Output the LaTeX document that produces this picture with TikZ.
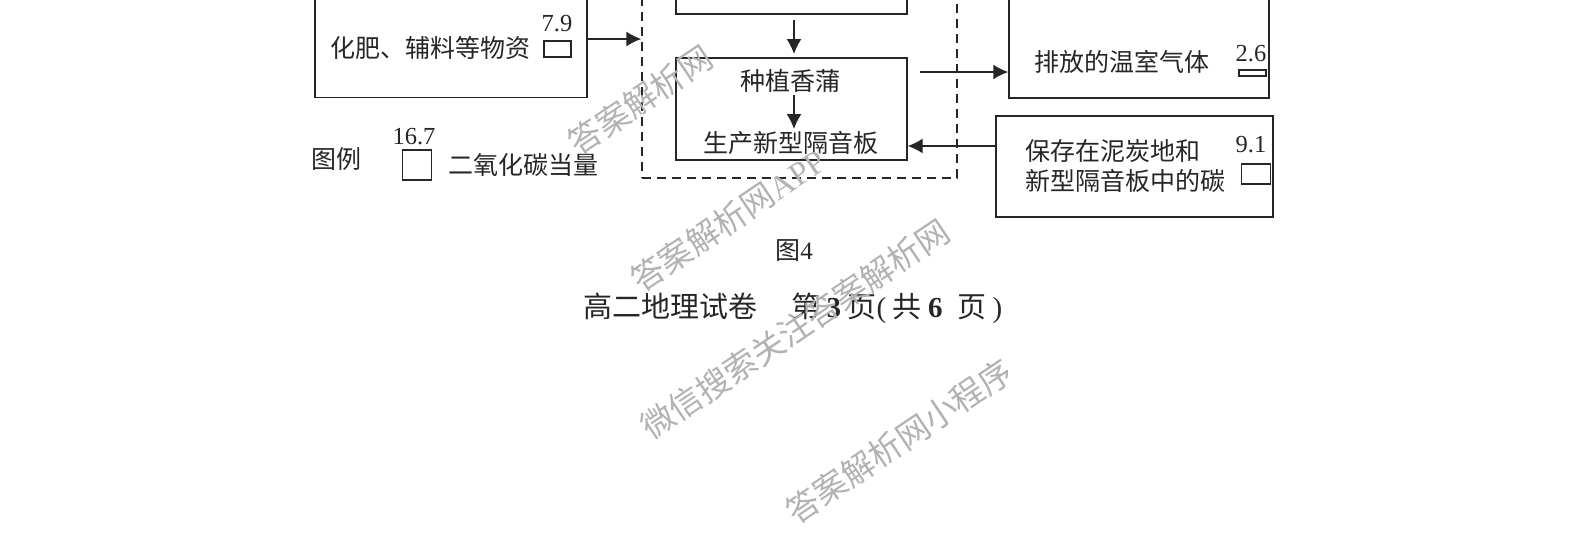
\documentclass[tikz,border=0pt]{standalone}
\usepackage{fontspec}
\setmainfont{Noto Sans CJK SC}
\newfontfamily\numfont{Liberation Serif}
\usetikzlibrary{arrows.meta}

\begin{document}
\begin{tikzpicture}[x=1pt, y=-1pt, line width=1.4pt, color={black!85},
  box/.style = {shape=rectangle, draw, inner sep=0pt},
  txt/.style = {inner sep=0pt, font=\fontsize{25pt}{30pt}\selectfont, align=left},
  num/.style = {inner sep=0pt, font=\fontsize{24.5pt}{30pt}\selectfont\numfont},
  wmark/.style = {inner sep=0pt, text=black!30, rotate=34, font=\fontsize{33pt}{33pt}\selectfont},
  arr/.style = {-{Latex[length=15pt,width=15pt]}}]

  \clip (0,0) rectangle (1588,550);

  % boxes
  \node [box, minimum width=272pt, minimum height=117pt] (input) at (451,39) {};
  \node [box, dashed, dash pattern=on 9pt off 6pt, minimum width=315pt, minimum height=278pt] (system) at (799.5,39) {};
  \node [box, minimum width=231pt, minimum height=74pt] (peat) at (791.5,-23) {};
  \node [box, minimum width=231pt, minimum height=102pt] (plant) at (791.5,109) {};
  \node [box, minimum width=260pt, minimum height=200pt] (emit) at (1139,-2) {};
  \node [box, minimum width=277pt, minimum height=101pt] (store) at (1134.5,166.5) {};

  % small boxes
  \node [box, minimum width=27pt, minimum height=16pt] (inputbar) at (557.5,49) {};
  \node [box, minimum width=27pt, minimum height=6pt] (emitbar) at (1252.5,73) {};
  \node [box, minimum width=29pt, minimum height=20pt] (storebar) at (1256,174) {};
  \node [box, minimum width=29pt, minimum height=30pt] (legendbar) at (417,165) {};

  % numbers
  \node [num] (inputval) at (557,24) {7.9};
  \node [num] (emitval) at (1251,54) {2.6};
  \node [num] (storeval) at (1251,145) {9.1};
  \node [num] (legendval) at (414,137) {16.7};

  % texts
  \node [txt] (inputtxt) at (430.5,48) {化肥、辅料等物资};
  \node [txt] (planttxt) at (790,81) {种植香蒲};
  \node [txt] (boardtxt) at (791,143) {生产新型隔音板};
  \node [txt] (emittxt) at (1121.5,62) {排放的温室气体};
  \node [txt, anchor=west] (storetxt) at (1025,166) {保存在泥炭地和\\新型隔音板中的碳};
  \node [txt] (legendtxt) at (336,159) {图例};
  \node [txt] (co2txt) at (523.5,165) {二氧化碳当量};
  \node [txt] (figtxt) at (794,251) {图{\numfont 4}};
  \node [inner sep=0pt, font=\fontsize{29pt}{30pt}\selectfont] (pagetxt) at (793,308)
    {高二地理试卷\hspace{1.15em}第 {\numfont\bfseries 3} 页{\numfont (} 共 {\numfont\bfseries 6}\hspace{.3em} 页\hspace{.2em}{\numfont )}};

  % connectors
  \coordinate (peatout) at (794,20);
  \coordinate (plantin) at (794,54);
  \coordinate (stepin) at (794,95);
  \coordinate (stepout) at (794,129);
  \coordinate (plantout) at (920,72);
  \coordinate (storeout) at (996,146);

  \draw [arr] (input.east) -- (system.west);
  \draw [arr] (peatout) -- (plantin);
  \draw [arr] (stepin) -- (stepout);
  \draw [arr] (plantout) -- (plantout -| emit.west);
  \draw [arr] (storeout) -- (storeout -| plant.east);

  % watermarks
  \node [wmark] (markone) at (640,100) {答案解析网};
  \node [wmark] (marktwo) at (728,220) {答案解析网{\numfont APP}};
  \node [wmark] (markthree) at (795,329) {微信搜索关注答案解析网};
  \node [wmark] (markfour) at (899,441) {答案解析网小程序};
\end{tikzpicture}
\end{document}
